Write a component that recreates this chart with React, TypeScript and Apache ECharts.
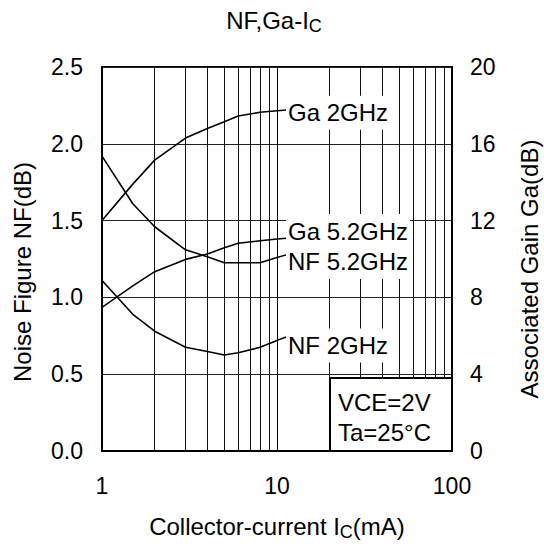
import React, { useEffect, useRef } from "react";
import * as echarts from "echarts";

const currents = [1, 1.5, 2, 3, 4, 5, 6, 8, 10];
const gain2GHz = [12.0, 13.9, 15.15, 16.3, 16.8, 17.15, 17.45, 17.64, 17.72];
const gain52GHz = [7.48, 8.6, 9.34, 9.98, 10.26, 10.59, 10.82, 10.95, 11.04];
const nf52GHz = [1.92, 1.61, 1.46, 1.31, 1.265, 1.226, 1.226, 1.226, 1.26];
const nf2GHz = [1.11, 0.89, 0.78, 0.675, 0.648, 0.625, 0.64, 0.675, 0.72];
const minorGrid = [2, 3, 4, 5, 6, 7, 8, 9, 20, 30, 40, 50, 60, 70, 80, 90];
const nfTicks = { min: 0, max: 2.5, interval: 0.5 };
const gaTicks = { min: 0, max: 20, interval: 4 };

const FONT = "'Liberation Sans', Arial, Helvetica, sans-serif";

function pairs(ys: number[]) {
  return currents.map((x, i) => [x, ys[i]]);
}

function leader(ys: number[]) {
  const n = ys.length;
  const last = ys[n - 1];
  const next = last + (last - ys[n - 2]) * 0.5;
  return {
    silent: true,
    z: 3,
    symbol: ["none", "none"],
    label: { show: false },
    lineStyle: { color: "#000", width: 1.5, type: "solid" },
    data: [[{ coord: [currents[n - 1], last] }, { coord: [11.3, next] }]],
  };
}

function curve(name: string, ys: number[], yAxisIndex: number, dy: number) {
  return {
    name,
    type: "line",
    yAxisIndex,
    z: 3,
    data: pairs(ys),
    showSymbol: false,
    symbol: "none",
    lineStyle: { color: "#000", width: 1.6 },
    itemStyle: { color: "#000" },
    endLabel: {
      show: true,
      formatter: name,
      color: "#000",
      fontFamily: FONT,
      fontSize: 24,
      backgroundColor: "#fff",
      padding: [5, 2, 5, 2],
      distance: 9,
      offset: [0, dy],
    },
    markLine: leader(ys),
  };
}

const richSub = {
  a: { fontSize: 24, lineHeight: 24, verticalAlign: "top", color: "#000", fontFamily: FONT, fontWeight: "normal" },
  b: { fontSize: 18, lineHeight: 18, verticalAlign: "top", padding: [9, 0, 0, 0], color: "#000", fontFamily: FONT, fontWeight: "normal" },
};

export default function App() {
  const ref = useRef<HTMLDivElement>(null);
  useEffect(() => {
    if (!ref.current) return;
    const chart = echarts.init(ref.current, undefined, { renderer: "svg" });
    chart.setOption({
      animation: false,
      backgroundColor: "#fff",
      textStyle: { fontFamily: FONT, color: "#000" },
      title: {
        text: "{a|NF,Ga-I}{b|C}",
        left: 274,
        top: 8,
        padding: 0,
        textAlign: "center",
        textStyle: { fontWeight: "normal", rich: richSub },
      },
      grid: {
        left: 102,
        top: 67,
        right: 92,
        bottom: 103,
        show: true,
        borderColor: "#000",
        borderWidth: 2,
        backgroundColor: "transparent",
      },
      xAxis: {
        type: "log",
        logBase: 10,
        min: 1,
        max: 100,
        name: "{a|Collector-current I}{b|C}{a|(mA)}",
        nameLocation: "middle",
        nameGap: 63,
        nameTextStyle: { rich: richSub },
        axisLine: { show: true, lineStyle: { color: "#000", width: 2 } },
        axisTick: { show: false },
        axisLabel: { fontSize: 23, color: "#000", fontFamily: FONT, margin: 23 },
        splitLine: { show: true, lineStyle: { color: "#000", width: 1 } },
      },
      yAxis: [
        {
          type: "value",
          position: "left",
          ...nfTicks,
          axisLine: { show: true, lineStyle: { color: "#000", width: 2 } },
          axisTick: { show: false },
          axisLabel: {
            fontSize: 23,
            color: "#000",
            fontFamily: FONT,
            margin: 19,
            formatter: (v: number) => v.toFixed(1),
          },
          splitLine: { show: true, lineStyle: { color: "#222", width: 1 } },
        },
        {
          type: "value",
          position: "right",
          ...gaTicks,
          axisLine: { show: true, lineStyle: { color: "#000", width: 2 } },
          axisTick: { show: false },
          axisLabel: { fontSize: 23, color: "#000", fontFamily: FONT, margin: 18 },
          splitLine: { show: false },
        },
      ],
      series: [
        {
          name: "minor-grid",
          type: "line",
          z: 1,
          data: [],
          markLine: {
            silent: true,
            z: 1,
            symbol: ["none", "none"],
            label: { show: false },
            lineStyle: { color: "#111", width: 1, type: "solid" },
            data: minorGrid.map((v) => ({ xAxis: v })),
          },
        },
        curve("Ga 2GHz", gain2GHz, 1, 2),
        curve("Ga 5.2GHz", gain52GHz, 1, -8),
        curve("NF 5.2GHz", nf52GHz, 0, 4.5),
        curve("NF 2GHz", nf2GHz, 0, 5),
      ],
      graphic: [
        {
          type: "text",
          x: 22,
          y: 272,
          rotation: Math.PI / 2,
          z: 100,
          style: {
            text: "Noise Figure NF(dB)",
            fill: "#000",
            font: `24px ${FONT}`,
            align: "center",
            verticalAlign: "middle",
          },
        },
        {
          type: "text",
          x: 529,
          y: 269,
          rotation: Math.PI / 2,
          z: 100,
          style: {
            text: "Associated Gain Ga(dB)",
            fill: "#000",
            font: `24px ${FONT}`,
            align: "center",
            verticalAlign: "middle",
          },
        },
        {
          type: "rect",
          z: 100,
          shape: { x: 330, y: 378, width: 122, height: 73 },
          style: { fill: "#fff", stroke: "#000", lineWidth: 2 },
        },
        {
          type: "text",
          x: 338,
          y: 402,
          z: 101,
          style: { text: "VCE=2V", fill: "#000", font: `24px ${FONT}`, align: "left", verticalAlign: "middle" },
        },
        {
          type: "text",
          x: 338,
          y: 432,
          z: 101,
          style: { text: "Ta=25°C", fill: "#000", font: `24px ${FONT}`, align: "left", verticalAlign: "middle" },
        },
      ],
    });
    return () => chart.dispose();
  }, []);
  return (
    <div
      ref={ref}
      style={{ position: "fixed", left: 0, top: 0, width: 544, height: 554, background: "#fff" }}
    />
  );
}
